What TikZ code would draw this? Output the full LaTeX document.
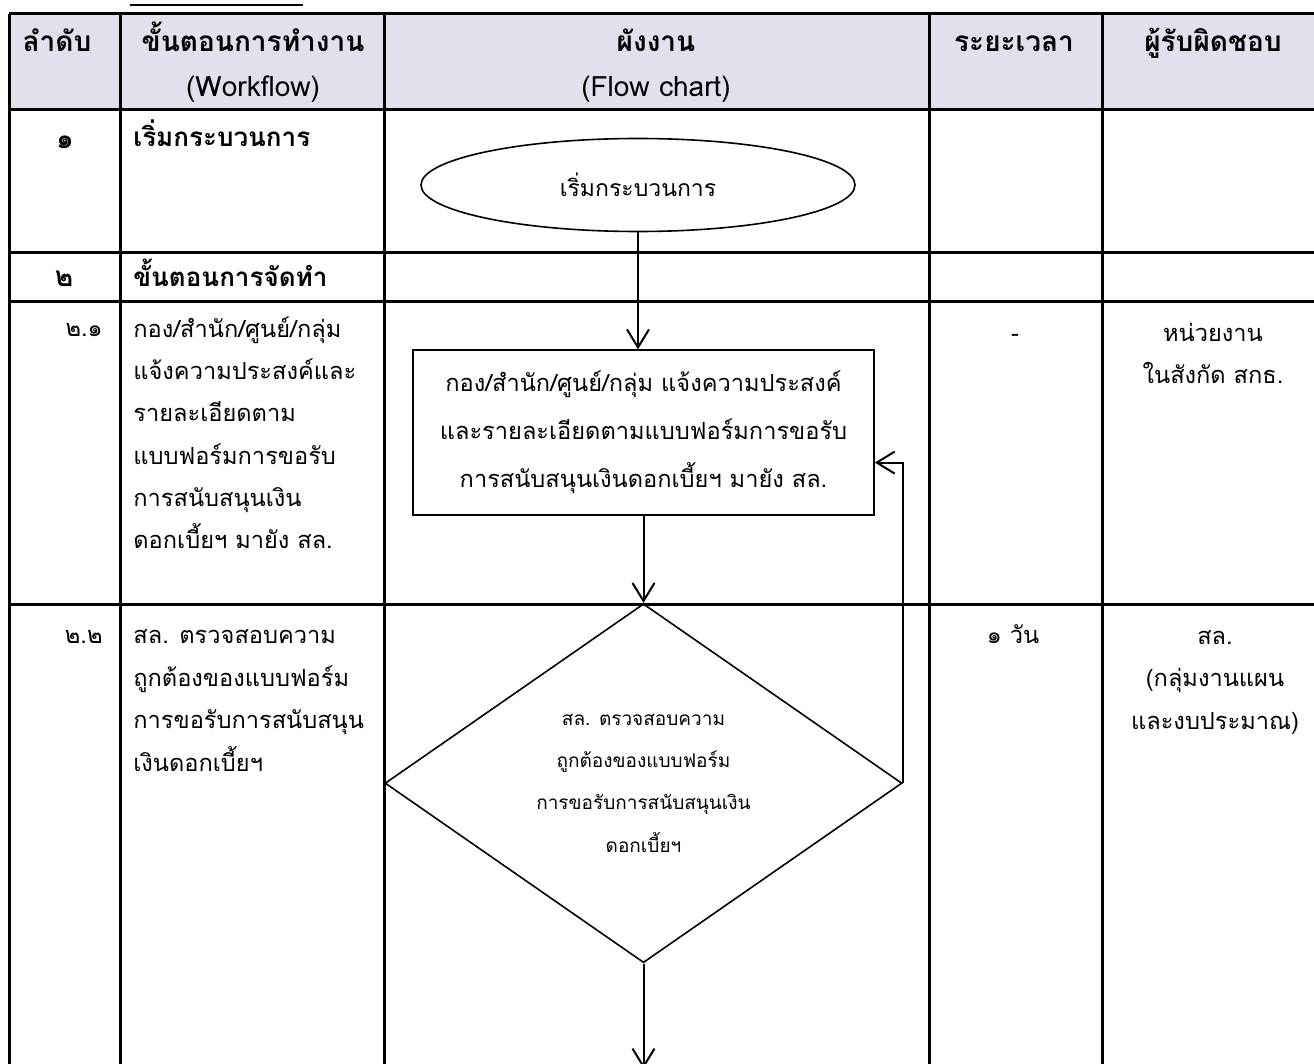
\documentclass[tikz,border=0pt]{standalone}
\usepackage{fontspec}
\setmainfont[Script=Thai]{Loma}
\usepackage{tikz}
\usetikzlibrary{positioning,arrows.meta,shapes.geometric,calc}
\definecolor{headfill}{HTML}{E4DFEC}

\begin{document}
\begin{tikzpicture}[x=0.5pt, y=-0.5pt,
  grid/.style={line width=1.5pt},
  txt/.style={inner sep=0pt, font=\fontsize{11.8}{21.2}\selectfont},
  lft/.style={txt, align=left, anchor=base west},
  ctr/.style={txt, align=center, anchor=base},
  hd/.style={ctr, font=\fontsize{14}{22.5}\selectfont\bfseries},
  rowhd/.style={lft, font=\fontsize{13}{21.2}\selectfont\bfseries},
  startnode/.style={draw, ellipse, line width=0.8pt, inner sep=0pt,
              minimum width=217pt, minimum height=46.5pt, font=\fontsize{11.5}{21.2}\selectfont},
  procbox/.style={draw, rectangle, line width=0.8pt, inner sep=0pt, align=center,
              minimum width=230.5pt, minimum height=82.5pt, font=\fontsize{11.8}{24}\selectfont},
  check/.style={draw, diamond, aspect=1.44, line width=0.8pt, inner sep=0pt, align=center,
              minimum width=258.5pt, minimum height=179.5pt, font=\fontsize{9.5}{21.2}\selectfont},
  arr/.style={-{Straight Barb[length=9pt,width=11pt]}, line width=1pt}]
\useasboundingbox (0,0) rectangle (1314,1064);
\fill[headfill] (9,14) rectangle (1314,110);
\draw[line width=1pt] (130,5) -- (303,5);
\draw[grid] (9,14) -- (1314,14);
\draw[grid] (9,110) -- (1314,110);
\draw[grid] (9,253) -- (1314,253);
\draw[grid] (9,302) -- (1314,302);
\draw[grid] (9,605) -- (1314,605);
\draw[grid] (9,14) -- (9,1064);
\draw[grid] (120,14) -- (120,1064);
\draw[grid] (384,14) -- (384,1064);
\draw[grid] (929,14) -- (929,1064);
\draw[grid] (1102,14) -- (1102,1064);

\node[hd] (hno) at (57,52) {ลำดับ};
\node[hd] (hstep) at (253,97) {ขั้นตอนการทำงาน\\\mdseries (Workflow)};
\node[hd] (hflow) at (656,97) {ผังงาน\\\mdseries (Flow chart)};
\node[hd] (htime) at (1014,52) {ระยะเวลา};
\node[hd] (hwho) at (1213,52) {ผู้รับผิดชอบ};

\node[hd] (n1) at (65,149) {๑};
\node[rowhd] (s1) at (133,147) {เริ่มกระบวนการ};
\node[hd] (n2) at (64,287) {๒};
\node[rowhd] (s2) at (133,287) {ขั้นตอนการจัดทำ};

\node[txt, anchor=base east] (n21) at (103,337) {๒.๑};
\node[lft] (s21) at (133,549) {กอง/สำนัก/ศูนย์/กลุ่ม\\แจ้งความประสงค์และ\\รายละเอียดตาม\\แบบฟอร์มการขอรับ\\การสนับสนุนเงิน\\ดอกเบี้ยฯ มายัง สล.};
\node[ctr] (t21) at (1015,342) {-};
\node[ctr] (r21) at (1213,384) {หน่วยงาน\\ในสังกัด สกธ.};

\node[txt, anchor=base east] (n22) at (103,644) {๒.๒};
\node[lft] (s22) at (133,771) {สล. ตรวจสอบความ\\ถูกต้องของแบบฟอร์ม\\การขอรับการสนับสนุน\\เงินดอกเบี้ยฯ};
\node[ctr] (t22) at (1013,644) {๑ วัน};
\node[ctr] (r22) at (1215,729) {สล.\\(กลุ่มงานแผน\\และงบประมาณ)};

\node[startnode] (start) at (638,185) {เริ่มกระบวนการ};
\node[procbox, below=58.5pt of start, xshift=2.75pt] (req) {กอง/สำนัก/ศูนย์/กลุ่ม แจ้งความประสงค์\\และรายละเอียดตามแบบฟอร์มการขอรับ\\การสนับสนุนเงินดอกเบี้ยฯ มายัง สล.};
\node[check, below=43.5pt of req] (chk) {สล. ตรวจสอบความ\\ถูกต้องของแบบฟอร์ม\\การขอรับการสนับสนุนเงิน\\ดอกเบี้ยฯ};
\coordinate[below=52.5pt of chk] (next);
\draw[arr] (start.south) -- (start.south |- req.north);
\draw[arr] (req.south) -- (chk.north);
\draw[arr] (chk.east) |- ($(req.east)+(0,30)$);
\draw[arr] (chk.south) -- (next);
\end{tikzpicture}
\end{document}
